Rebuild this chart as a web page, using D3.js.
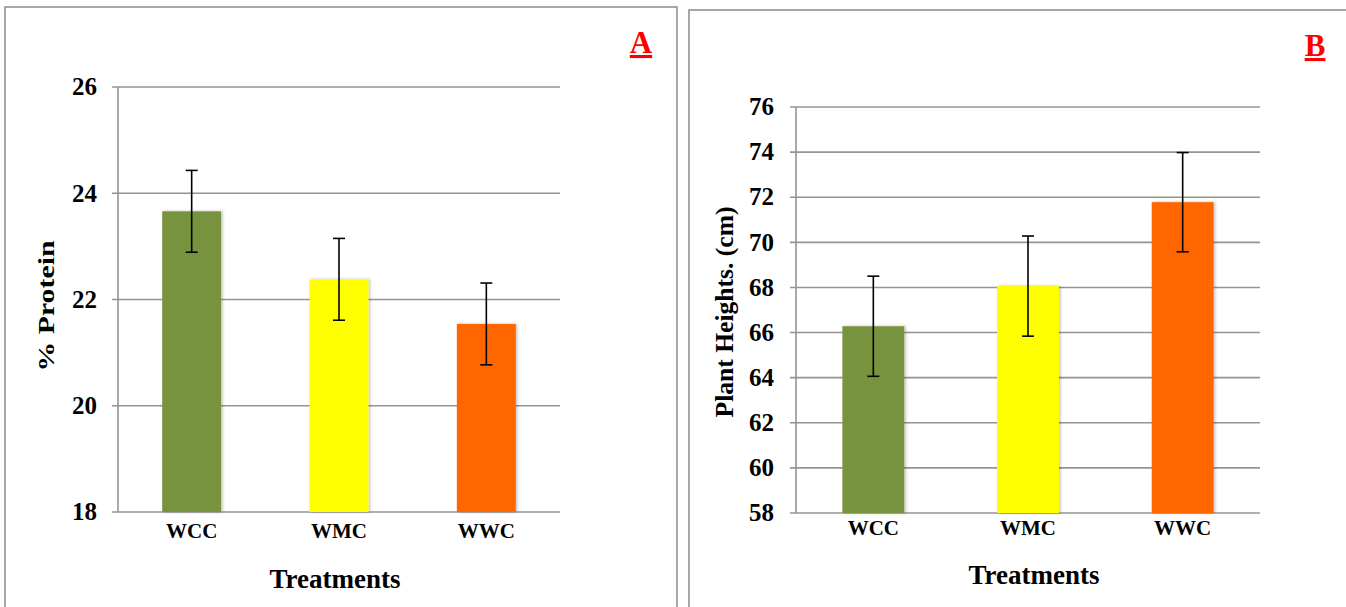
<!DOCTYPE html>
<html><head><meta charset="utf-8">
<script src="https://cdn.jsdelivr.net/npm/d3@7"></script>
<style>body{margin:0;background:#fff;} svg{display:block;}</style>
</head><body>
<svg id="c" width="1346" height="607"></svg>
<script>
const categories = ["WCC", "WMC", "WWC"];
const colors = ["#77933C", "#FFFF00", "#FF6600"];
const proteinValues = [23.66, 22.38, 21.54];
const proteinErrors = [0.77, 0.77, 0.77];
const proteinTicks = [18, 20, 22, 24, 26];
const heightValues = [66.28, 68.06, 71.78];
const heightErrors = [2.22, 2.22, 2.2];
const heightTicks = [58, 60, 62, 64, 66, 68, 70, 72, 74, 76];

const svg = d3.select("#c");
const font = "'Liberation Serif','Times New Roman',serif";

const defs = svg.append("defs");
const f = defs.append("filter").attr("id","sh").attr("x","-20%").attr("y","-5%").attr("width","140%").attr("height","110%");
f.append("feDropShadow").attr("dx",1.5).attr("dy",0).attr("stdDeviation",1.5).attr("flood-color","#000").attr("flood-opacity",0.25);

function panel(o) {
  const g = svg.append("g");
  g.append("rect").attr("x", o.box[0]).attr("y", o.box[1]).attr("width", o.box[2]).attr("height", o.box[3])
    .attr("fill", "#fff").attr("stroke", "#8c8c8c").attr("stroke-width", 1.5);
  const x = d3.scaleBand().domain(categories).range([o.x0, o.x1]).paddingInner(0.6).paddingOuter(0.3);
  const y = d3.scaleLinear().domain([o.ticks[0], o.ticks[o.ticks.length-1]]).range([o.y0, o.y1]);
  g.selectAll(".grid").data(o.ticks).enter().append("line")
    .attr("x1", o.x0 - 6).attr("x2", o.x1).attr("y1", d => y(d)).attr("y2", d => y(d))
    .attr("stroke", "#949494").attr("stroke-width", 1.6);
  g.append("line").attr("x1", o.x0).attr("x2", o.x0).attr("y1", o.y0).attr("y2", o.y1)
    .attr("stroke", "#949494").attr("stroke-width", 1.6);
  g.selectAll(".tl").data(o.ticks).enter().append("text")
    .attr("x", o.tickX).attr("y", d => y(d)).attr("dy", "0.33em").attr("text-anchor", "end")
    .attr("font-family", font).attr("font-weight", "bold").attr("font-size", 25).text(d => d);
  g.selectAll(".bar").data(o.values).enter().append("rect")
    .attr("x", (d,i) => x(categories[i])).attr("width", x.bandwidth())
    .attr("y", d => y(d)).attr("height", d => y(o.ticks[0]) - y(d))
    .attr("fill", (d,i) => colors[i]).attr("filter", "url(#sh)");
  o.values.forEach((v,i) => {
    const cx = x(categories[i]) + x.bandwidth()/2;
    const e = o.errors[i];
    g.append("line").attr("x1", cx).attr("x2", cx).attr("y1", y(v+e)).attr("y2", y(v-e)).attr("stroke","#000").attr("stroke-width",1.6);
    [v+e, v-e].forEach(t => g.append("line").attr("x1", cx-6).attr("x2", cx+6).attr("y1", y(t)).attr("y2", y(t)).attr("stroke","#000").attr("stroke-width",1.6));
  });
  g.selectAll(".cl").data(categories).enter().append("text")
    .attr("x", d => x(d) + x.bandwidth()/2).attr("y", o.catY).attr("text-anchor", "middle")
    .attr("font-family", font).attr("font-weight", "bold").attr("font-size", 21).text(d => d);
  g.append("text").attr("x", o.titleX).attr("y", o.titleY).attr("text-anchor", "middle")
    .attr("font-family", font).attr("font-weight", "bold").attr("font-size", 27).text("Treatments");
  g.append("text").attr("transform", `translate(${o.ylabX},${o.ylabY}) rotate(-90)`).attr("text-anchor", "middle")
    .attr("font-family", font).attr("font-weight", "bold").attr("font-size", o.ylabSize)
    .attr("textLength", o.ylabLen).attr("lengthAdjust", "spacingAndGlyphs").text(o.ylab);
  g.append("text").attr("x", o.letterX).attr("y", o.letterY).attr("text-anchor", "middle")
    .attr("font-family", font).attr("font-weight", "bold").attr("font-size", 31).attr("fill", "#ff0000")
    .attr("text-decoration", "underline").text(o.letter);
}

panel({box:[5,7,672,610], x0:118, x1:560, y0:512, y1:87, ticks:proteinTicks, values:proteinValues, errors:proteinErrors,
  tickX:97, catY:538, titleX:335, titleY:588, ylabX:54, ylabY:306, ylabSize:23, ylabLen:131, ylab:"% Protein", letterX:641, letterY:53, letter:"A"});
panel({box:[689,10,670,610], x0:796, x1:1260, y0:513, y1:107, ticks:heightTicks, values:heightValues, errors:heightErrors,
  tickX:774, catY:535, titleX:1034, titleY:584, ylabX:733, ylabY:312, ylabSize:25, ylabLen:211, ylab:"Plant Heights. (cm)", letterX:1315, letterY:56, letter:"B"});
</script>
</body></html>
